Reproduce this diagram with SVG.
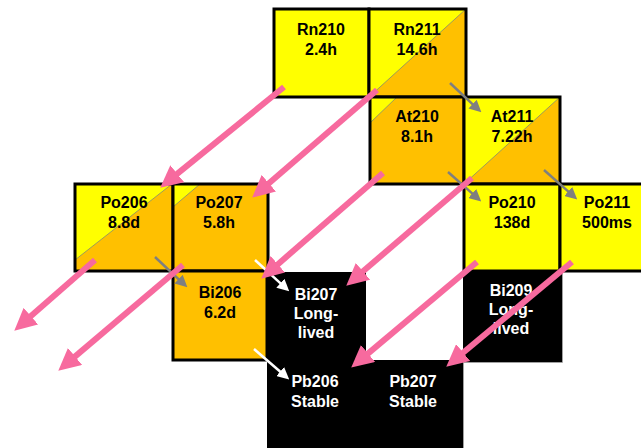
<svg xmlns="http://www.w3.org/2000/svg" width="641" height="448" viewBox="0 0 641 448">
<style>
.c{stroke:#000;stroke-width:3}
.y{fill:#FFFF00}
.o{fill:#FFC000}
.b{fill:#000}
.dg{stroke:#9c9c5a;stroke-width:1;fill:none}
.edge{fill:none;stroke:#a0a0a0;stroke-width:1}
text{font-family:"Liberation Sans",Arial,sans-serif;font-weight:bold;font-size:16px;text-anchor:middle}
.t{fill:#000}
.w{fill:#fff}
.pk{stroke:#F76A9E;stroke-width:6;fill:none}
.gr{stroke:#7f7f7f;stroke-width:2.5;fill:none}
.wh{stroke:#fff;stroke-width:2.5;fill:none}
</style>
<defs>
<marker id="ap" markerUnits="userSpaceOnUse" viewBox="0 -11 22 22" markerWidth="22" markerHeight="22" refX="1" refY="0" orient="auto"><path d="M0,-11 L22,0 L0,11 z" fill="#F76A9E"/></marker>
<marker id="ag" markerUnits="userSpaceOnUse" viewBox="0 -6 12 12" markerWidth="12" markerHeight="12" refX="1" refY="0" orient="auto"><path d="M0,-6 L12,0 L0,6 z" fill="#7f7f7f"/></marker>
<marker id="aw" markerUnits="userSpaceOnUse" viewBox="0 -6 12 12" markerWidth="12" markerHeight="12" refX="1" refY="0" orient="auto"><path d="M0,-6 L12,0 L0,6 z" fill="#fff"/></marker>
</defs>
<rect width="641" height="448" fill="#fff"/>
<g id="Rn210"><rect class="c y" x="274" y="9" width="95" height="88"/><text class="t" x="321" y="35">Rn210</text><text class="t" x="321" y="55">2.4h</text></g>
<g id="Rn211"><rect class="y" x="369" y="9" width="97" height="88"/><polygon class="o" points="369,97 466,9 466,97"/><line class="dg" x1="369" y1="97" x2="466" y2="9"/><rect class="c" x="369" y="9" width="97" height="88" fill="none"/><text class="t" x="417" y="35">Rn211</text><text class="t" x="417" y="55">14.6h</text></g>
<g id="At210"><rect class="o" x="370" y="97" width="94" height="87"/><polygon class="y" points="370,97 397,97 370,123"/><line class="dg" x1="397" y1="97" x2="370" y2="123"/><rect class="c" x="370" y="97" width="94" height="87" fill="none"/><text class="t" x="417" y="122">At210</text><text class="t" x="417" y="142">8.1h</text></g>
<g id="At211"><rect class="y" x="464" y="97" width="96" height="87"/><polygon class="o" points="464,184 560,97 560,184"/><line class="dg" x1="464" y1="184" x2="560" y2="97"/><rect class="c" x="464" y="97" width="96" height="87" fill="none"/><text class="t" x="512" y="122">At211</text><text class="t" x="512" y="142">7.22h</text></g>
<g id="Po206"><rect class="y" x="75" y="184" width="98" height="87"/><polygon class="o" points="75,260 172,184 173,184 173,271 75,271"/><line class="dg" x1="75" y1="260" x2="172" y2="184"/><rect class="c" x="75" y="184" width="98" height="87" fill="none"/><text class="t" x="124" y="208">Po206</text><text class="t" x="124" y="228">8.8d</text></g>
<g id="Po207"><rect class="o" x="173" y="184" width="95" height="87"/><polygon class="y" points="173,184 200,184 173,207"/><line class="dg" x1="200" y1="184" x2="173" y2="207"/><rect class="c" x="173" y="184" width="95" height="87" fill="none"/><text class="t" x="219" y="208">Po207</text><text class="t" x="219" y="228">5.8h</text></g>
<g id="Po210"><rect class="c y" x="464" y="184" width="96" height="87"/><text class="t" x="512" y="208">Po210</text><text class="t" x="512" y="228">138d</text></g>
<g id="Po211"><rect class="c y" x="560" y="184" width="100" height="87"/><text class="t" x="607" y="208">Po211</text><text class="t" x="607" y="228">500ms</text></g>
<g id="Bi206"><rect class="c o" x="173" y="271" width="94" height="89"/><text class="t" x="220" y="298">Bi206</text><text class="t" x="220" y="318">6.2d</text></g>
<g id="Bi207"><rect class="b" x="267" y="272" width="99" height="89"/><text class="w" x="316" y="300">Bi207</text><text class="w" x="316" y="319">Long-</text><text class="w" x="316" y="338">lived</text></g>
<g id="Bi209"><rect class="b" x="463" y="272" width="99" height="90"/><path class="edge" d="M562.5,272 V362.5 H463"/><text class="w" x="511" y="296">Bi209</text><text class="w" x="511" y="315">Long-</text><text class="w" x="511" y="334">lived</text></g>
<g id="Pb206"><rect class="b" x="267" y="360" width="100" height="90"/><text class="w" x="315" y="387">Pb206</text><text class="w" x="315" y="407">Stable</text></g>
<g id="Pb207"><rect class="b" x="366" y="360" width="97" height="90"/><path class="edge" d="M463.5,362 V448"/><text class="w" x="413" y="387">Pb207</text><text class="w" x="413" y="407">Stable</text></g>
<g id="connectors">
<line class="gr" x1="450" y1="83" x2="473.3" y2="104.8" marker-end="url(#ag)"/>
<line class="gr" x1="448" y1="172" x2="473" y2="194.1" marker-end="url(#ag)"/>
<line class="gr" x1="544" y1="170" x2="569" y2="192.1" marker-end="url(#ag)"/>
<line class="gr" x1="155" y1="257" x2="179.3" y2="279.8" marker-end="url(#ag)"/>
<line class="wh" x1="255" y1="260" x2="281.1" y2="283.9" marker-end="url(#aw)"/>
<line class="wh" x1="254" y1="349" x2="280.9" y2="372.2" marker-end="url(#aw)"/>
<line class="pk" x1="284" y1="87" x2="176.5" y2="174.4" marker-end="url(#ap)"/>
<line class="pk" x1="377" y1="90" x2="268.1" y2="183.9" marker-end="url(#ap)"/>
<line class="pk" x1="383" y1="173" x2="277.1" y2="264.9" marker-end="url(#ap)"/>
<line class="pk" x1="472" y1="178" x2="362.2" y2="272" marker-end="url(#ap)"/>
<line class="pk" x1="95" y1="260" x2="30.1" y2="316.8" marker-end="url(#ap)"/>
<line class="pk" x1="183" y1="265" x2="74.3" y2="357.1" marker-end="url(#ap)"/>
<line class="pk" x1="477" y1="262" x2="367.3" y2="354.1" marker-end="url(#ap)"/>
<line class="pk" x1="572" y1="262" x2="462.4" y2="353.2" marker-end="url(#ap)"/>
</g>
</svg>
